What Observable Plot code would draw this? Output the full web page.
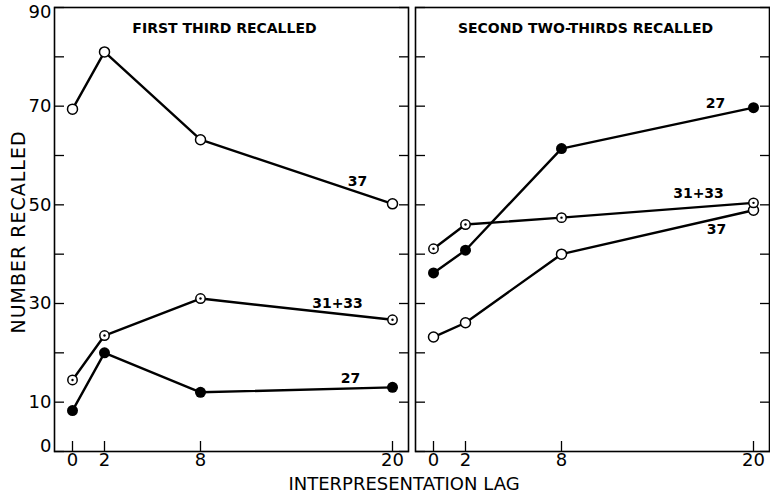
<!DOCTYPE html>
<html><head><meta charset="utf-8">
<script src="https://cdn.jsdelivr.net/npm/d3@7"></script>
<script src="https://cdn.jsdelivr.net/npm/@observablehq/plot@0.6"></script>
<style>
body{margin:0;background:#fff;}
#wrap{position:relative;width:770px;height:494px;font-family:"DejaVu Sans",sans-serif;}
#wrap svg{position:absolute;left:0;top:0;}
.lab{position:absolute;font-size:18px;color:#000;white-space:nowrap;line-height:1;}
</style></head><body>
<div id="wrap"></div>
<script>
// ---- data ----
const panels = ["FIRST THIRD RECALLED", "SECOND TWO-THIRDS RECALLED"];
const seriesNames = ["37", "31+33", "27"];
const lags = [0, 2, 8, 20];
const first37   = [69.4, 81.0, 63.2, 50.2];
const first3133 = [14.5, 23.5, 31.0, 26.7];
const first27   = [8.3, 20.0, 12.0, 13.0];
const second37   = [23.2, 26.1, 40.0, 48.9];
const second3133 = [41.1, 46.0, 47.4, 50.4];
const second27   = [36.2, 40.8, 61.4, 69.7];
const yTickValues = [0, 10, 20, 30, 40, 50, 60, 70, 80, 90];
const yTickLabelsMid = [10, 30, 50, 70];
const yTickLabelBottom = [0];
const yTickLabelTop = [90];
const xLabel = "INTERPRESENTATION LAG";
const yLabel = "NUMBER RECALLED";

const valuesByPanel = {
  [panels[0]]: {"37": first37, "31+33": first3133, "27": first27},
  [panels[1]]: {"37": second37, "31+33": second3133, "27": second27}
};
const rows = [];
for (const p of panels) for (const s of seriesNames)
  valuesByPanel[p][s].forEach((v, i) => rows.push({panel: p, series: s, lag: lags[i], value: v}));

// label offsets relative to last point of each series (style)
const labelOffsets = [
  {panel: panels[0], series: "37", dx: -35, dy: -22},
  {panel: panels[0], series: "31+33", dx: -55, dy: -16},
  {panel: panels[0], series: "27", dx: -42, dy: -9},
  {panel: panels[1], series: "27", dx: -38, dy: -4},
  {panel: panels[1], series: "31+33", dx: -55, dy: -9},
  {panel: panels[1], series: "37", dx: -37, dy: 19}
];

const sel = s => rows.filter(d => d.series === s);
const blank = () => "";
const yLab = (vals, dy) => Plot.axisY(vals, {anchor: "left", tickSize: 0, tickPadding: 3, fontSize: 18, label: null, dy});

const marks = [
  Plot.frame({stroke: "black", strokeWidth: 1.6}),
  yLab(yTickLabelsMid, 0),
  yLab(yTickLabelBottom, -5),
  yLab(yTickLabelTop, 5),
  Plot.axisY(yTickValues, {anchor: "left", tickSize: -10, tickFormat: blank, facetAnchor: null, label: null, strokeWidth: 1.3}),
  Plot.axisY(yTickValues, {anchor: "right", tickSize: -10, tickFormat: blank, facetAnchor: null, label: null, strokeWidth: 1.3}),
  Plot.axisX(lags, {anchor: "bottom", tickSize: 0, tickPadding: 2, fontSize: 18, label: null}),
  Plot.axisX(lags, {anchor: "bottom", tickSize: -10, tickFormat: blank, label: null, strokeWidth: 1.3}),
  Plot.text(panels, {fx: d => d, text: d => d, frameAnchor: "top", dy: 16, dx: -7, fontSize: 14, fontWeight: "bold", style: "letter-spacing:0.5px"}),
  Plot.line(rows, {fx: "panel", x: "lag", y: "value", z: "series", stroke: "black", strokeWidth: 2.4}),
  Plot.dot(sel("37"), {fx: "panel", x: "lag", y: "value", r: 5, fill: "white", stroke: "black", strokeWidth: 1.5}),
  Plot.dot(sel("31+33"), {fx: "panel", x: "lag", y: "value", r: 4.7, fill: "white", stroke: "black", strokeWidth: 1.5}),
  Plot.dot(sel("31+33"), {fx: "panel", x: "lag", y: "value", r: 1.2, fill: "black"}),
  Plot.dot(sel("27"), {fx: "panel", x: "lag", y: "value", r: 5.5, fill: "black"}),
  ...labelOffsets.map(o => Plot.text(rows.filter(d => d.panel === o.panel && d.series === o.series && d.lag === lags[lags.length - 1]),
    {fx: "panel", x: "lag", y: "value", text: "series", dx: o.dx, dy: o.dy, fontSize: 14, fontWeight: "bold"}))
];

const chart = Plot.plot({
  width: 770, height: 494,
  marginTop: 7, marginBottom: 43, marginLeft: 53, marginRight: 1,
  style: {fontFamily: "DejaVu Sans", background: "white", color: "black"},
  fx: {domain: panels, paddingInner: 0.0207, paddingOuter: 0, axis: null, label: null},
  x: {domain: [0, 20], insetLeft: 18, insetRight: 16},
  y: {domain: [0, 90]},
  marks
});
const wrap = document.getElementById("wrap");
wrap.appendChild(chart);
const xl = document.createElement("div");
xl.className = "lab"; xl.textContent = xLabel;
xl.style.left = "404px"; xl.style.top = "484px"; xl.style.transform = "translate(-50%,-50%)";
wrap.appendChild(xl);
const yl = document.createElement("div");
yl.className = "lab"; yl.textContent = yLabel;
yl.style.fontSize = "19px"; yl.style.letterSpacing = "1px";
yl.style.left = "18px"; yl.style.top = "232px"; yl.style.transform = "translate(-50%,-50%) rotate(-90deg)";
wrap.appendChild(yl);
</script>
</body></html>
